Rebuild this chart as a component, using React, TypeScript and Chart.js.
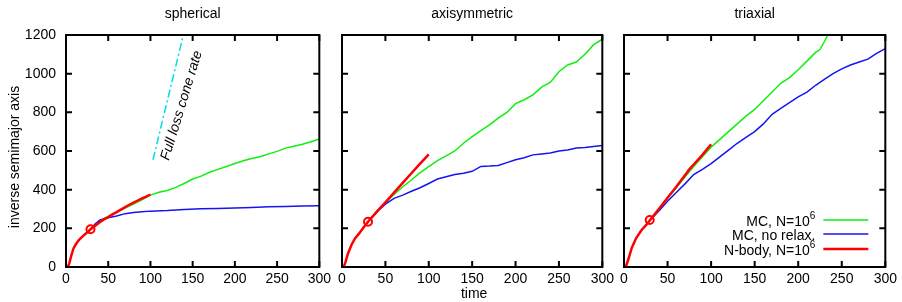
import React, { useEffect, useRef } from "react";
import { Chart, registerables } from "chart.js";

Chart.register(...registerables);

type Pt = [number, number];

// ---------- data ----------
const xTicks = [0, 50, 100, 150, 200, 250, 300];
const yTicks = [0, 200, 400, 600, 800, 1000, 1200];
const panelTitles = ["spherical", "axisymmetric", "triaxial"];
const yAxisTitle = "inverse semimajor axis";
const xAxisTitle = "time";
const annotationText = "Full loss cone rate";
const legendLabels: [string, string][] = [
  ["MC, N=10", "6"],
  ["MC, no relax.", ""],
  ["N-body, N=10", "6"],
];

// spherical
const sphNbody: Pt[] = [
  [2, 0], [4, 20], [6, 55], [9, 97], [12, 120], [16, 143], [20, 160], [25, 178], [29, 195],
  [35, 215], [40, 232], [45, 246], [50, 258], [55, 272], [60, 284], [65, 297], [70, 310],
  [75, 322], [80, 333], [85, 344], [90, 355], [95, 364], [100, 375],
];
const sphMC: Pt[] = [
  [29, 195], [35, 222], [40, 240], [50, 262], [60, 285], [70, 305], [80, 325], [90, 347],
  [100, 372], [110, 387], [120, 396], [130, 412], [140, 432], [150, 455], [160, 470],
  [170, 490], [180, 505], [190, 520], [200, 535], [210, 550], [220, 561], [230, 570],
  [240, 585], [250, 598], [260, 615], [270, 625], [280, 635], [290, 648], [300, 662],
];
const sphNoRelax: Pt[] = [
  [29, 195], [35, 225], [40, 242], [45, 250], [50, 255], [60, 264], [70, 276], [80, 282],
  [90, 286], [100, 289], [120, 292], [140, 297], [160, 301], [180, 303], [200, 305],
  [220, 308], [240, 311], [260, 313], [280, 315], [300, 317],
];
const sphCircle: Pt[] = [[29, 195]];
const sphFullLossCone: Pt[] = [[103, 555], [139, 1200]];

// axisymmetric
const axiNbody: Pt[] = [
  [2, 0], [4, 25], [7, 71], [11, 115], [15, 148], [20, 175], [25, 205], [30, 234],
  [40, 285], [50, 335], [60, 385], [70, 435], [80, 485], [90, 535], [100, 583],
];
const axiMC: Pt[] = [
  [30, 234], [40, 288], [50, 332], [60, 375], [70, 415], [80, 450], [90, 488], [100, 519],
  [110, 550], [120, 575], [130, 600], [140, 640], [150, 674], [160, 705], [170, 735],
  [180, 770], [190, 800], [200, 845], [210, 865], [220, 890], [230, 930], [240, 955],
  [250, 1010], [260, 1045], [270, 1060], [280, 1100], [290, 1150], [300, 1178],
];
const axiNoRelax: Pt[] = [
  [30, 234], [40, 285], [50, 325], [60, 355], [70, 372], [80, 392], [90, 410], [100, 432],
  [110, 455], [120, 467], [130, 478], [140, 485], [150, 495], [160, 520], [170, 522],
  [180, 525], [190, 540], [200, 555], [210, 565], [220, 580], [230, 585], [240, 590],
  [250, 600], [260, 605], [270, 615], [280, 618], [290, 623], [300, 628],
];
const axiCircle: Pt[] = [[30, 234]];

// triaxial
const triNbody: Pt[] = [
  [2, 0], [5, 40], [9, 100], [14, 150], [20, 190], [25, 215], [30, 243], [40, 300],
  [50, 358], [60, 415], [70, 475], [75, 505], [80, 530], [90, 580], [100, 635],
];
const triMC: Pt[] = [
  [30, 243], [40, 300], [50, 355], [60, 410], [70, 465], [80, 520], [90, 570], [100, 620],
  [110, 660], [120, 700], [130, 740], [140, 780], [150, 815], [160, 860], [170, 905],
  [180, 950], [190, 980], [200, 1020], [210, 1065], [220, 1110], [225, 1125], [230, 1165],
  [235, 1210],
];
const triNoRelax: Pt[] = [
  [30, 243], [40, 290], [50, 340], [60, 385], [70, 430], [80, 478], [90, 505], [100, 535],
  [110, 570], [120, 605], [130, 640], [140, 670], [150, 700], [160, 740], [170, 790],
  [180, 820], [190, 850], [200, 880], [210, 905], [220, 940], [230, 970], [240, 1000],
  [250, 1025], [260, 1045], [270, 1060], [280, 1075], [290, 1105], [300, 1130],
];
const triCircle: Pt[] = [[29.5, 243]];

// ---------- styles ----------
const FONT = '"Liberation Sans", Arial, sans-serif';
const FS = 14;
const RED = "#ff0000";
const GREEN = "#11ee11";
const BLUE = "#1515ee";
const CYAN = "#00dddd";

interface PanelDef {
  title: string;
  left: number;
  width: number;
  padL: number;
  padR: number;
  showY: boolean;
  nbody: Pt[];
  mc: Pt[];
  noRelax: Pt[];
  circle: Pt[];
  lossCone?: Pt[];
  annotation?: boolean;
  yTitle?: boolean;
  xTitle?: boolean;
  legend?: boolean;
}

const panels: PanelDef[] = [
  { title: panelTitles[0], left: 0, width: 335, padL: 0, padR: 14, showY: true,
    nbody: sphNbody, mc: sphMC, noRelax: sphNoRelax, circle: sphCircle,
    lossCone: sphFullLossCone, annotation: true, yTitle: true },
  { title: panelTitles[1], left: 330, width: 288, padL: 12, padR: 14, showY: false,
    nbody: axiNbody, mc: axiMC, noRelax: axiNoRelax, circle: axiCircle, xTitle: true },
  { title: panelTitles[2], left: 612, width: 289, padL: 12, padR: 14, showY: false,
    nbody: triNbody, mc: triMC, noRelax: triNoRelax, circle: triCircle, legend: true },
];

const toXY = (a: Pt[]) => a.map(([x, y]) => ({ x, y }));

function makeChart(canvas: HTMLCanvasElement, p: PanelDef) {
  const datasets: any[] = [
    {
      data: toXY(p.circle), showLine: false, pointRadius: 4, pointBorderWidth: 2,
      pointBorderColor: RED, pointBackgroundColor: "rgba(0,0,0,0)",
    },
    { data: toXY(p.nbody), showLine: true, borderColor: RED, borderWidth: 2.5, pointRadius: 0 },
    { data: toXY(p.noRelax), showLine: true, borderColor: BLUE, borderWidth: 1.5, pointRadius: 0 },
    { data: toXY(p.mc), showLine: true, borderColor: GREEN, borderWidth: 1.5, pointRadius: 0 },
  ];
  if (p.lossCone) {
    datasets.push({
      data: toXY(p.lossCone), showLine: true, borderColor: CYAN, borderWidth: 1.5,
      pointRadius: 0, borderDash: [8, 3, 2, 3],
    });
  }

  const decor = {
    id: "decor",
    afterDraw(chart: any) {
      const ctx: CanvasRenderingContext2D = chart.ctx;
      const { left, top, right, bottom } = chart.chartArea;
      const xs = chart.scales.x;
      const ys = chart.scales.y;
      ctx.save();
      ctx.strokeStyle = "#000";
      ctx.lineWidth = 2;
      ctx.strokeRect(left, top, right - left, bottom - top);
      const TL = 6;
      ctx.beginPath();
      for (const v of xTicks) {
        const px = xs.getPixelForValue(v);
        ctx.moveTo(px, bottom); ctx.lineTo(px, bottom - TL);
        ctx.moveTo(px, top); ctx.lineTo(px, top + TL);
      }
      for (const v of yTicks) {
        const py = ys.getPixelForValue(v);
        ctx.moveTo(left, py); ctx.lineTo(left + TL, py);
        ctx.moveTo(right, py); ctx.lineTo(right - TL, py);
      }
      ctx.stroke();

      ctx.fillStyle = "#000";
      ctx.font = `${FS}px ${FONT}`;
      ctx.textAlign = "center";
      ctx.textBaseline = "middle";
      ctx.fillText(p.title, (left + right) / 2, 14);

      if (p.yTitle) {
        ctx.save();
        ctx.translate(15, 157);
        ctx.rotate(-Math.PI / 2);
        ctx.font = `${FS}px ${FONT}`;
        ctx.fillText(yAxisTitle, 0, 0);
        ctx.restore();
      }
      if (p.xTitle) {
        ctx.font = `${FS}px ${FONT}`;
        ctx.fillText(xAxisTitle, (left + right) / 2 + 2, 294);
      }
      if (p.annotation) {
        ctx.save();
        ctx.translate(xs.getPixelForValue(137), ys.getPixelForValue(835));
        ctx.rotate((-73 * Math.PI) / 180);
        ctx.font = `italic ${FS}px ${FONT}`;
        ctx.fillText(annotationText, 0, 0);
        ctx.restore();
      }
      if (p.legend) {
        const colors = [GREEN, BLUE, RED];
        const rowsY = [220, 234, 249];
        const textRight = right - 70;
        legendLabels.forEach(([main, sup], i) => {
          const y = rowsY[i];
          ctx.strokeStyle = colors[i];
          ctx.lineWidth = i === 2 ? 2.5 : 1.5;
          ctx.beginPath();
          ctx.moveTo(right - 62, y);
          ctx.lineTo(right - 17, y);
          ctx.stroke();
          ctx.font = `${FS}px ${FONT}`;
          const mw = ctx.measureText(main).width;
          ctx.font = `10px ${FONT}`;
          const sw = sup ? ctx.measureText(sup).width : 0;
          const start = textRight - mw - sw;
          ctx.textAlign = "left";
          ctx.font = `${FS}px ${FONT}`;
          ctx.fillStyle = "#000";
          ctx.fillText(main, start, y + 2);
          if (sup) {
            ctx.font = `10px ${FONT}`;
            ctx.fillText(sup, start + mw, y - 4);
          }
        });
      }
      ctx.restore();
    },
  };

  return new Chart(canvas, {
    type: "scatter",
    data: { datasets },
    options: {
      animation: false,
      responsive: false,
      devicePixelRatio: 1,
      events: [],
      layout: { padding: { top: 35, left: p.padL, right: p.padR, bottom: 0 } },
      elements: { line: { tension: 0 } },
      plugins: { legend: { display: false }, tooltip: { enabled: false }, title: { display: false } },
      scales: {
        x: {
          type: "linear", min: 0, max: 300,
          grid: { display: false, drawTicks: false },
          border: { display: false },
          ticks: {
            stepSize: 50, color: "#000", font: { family: FONT, size: FS }, padding: 4, maxRotation: 0,
            callback: (v: any) => String(v),
          },
          afterFit: (s: any) => { s.height = 35; },
        },
        y: {
          type: "linear", min: 0, max: 1200,
          display: p.showY,
          grid: { display: false, drawTicks: false },
          border: { display: false },
          ticks: {
            stepSize: 200, color: "#000", font: { family: FONT, size: FS }, padding: 10,
            callback: (v: any) => String(v),
          },
          afterFit: (s: any) => { s.width = p.showY ? 66 : 0; },
        },
      },
    } as any,
    plugins: [decor],
  });
}

function Panel({ p }: { p: PanelDef }) {
  const ref = useRef<HTMLCanvasElement>(null);
  useEffect(() => {
    if (!ref.current) return;
    const c = makeChart(ref.current, p);
    return () => c.destroy();
  }, [p]);
  return (
    <canvas
      ref={ref}
      width={p.width}
      height={302}
      style={{ position: "absolute", left: p.left, top: 0, width: p.width, height: 302 }}
    />
  );
}

export default function App() {
  return (
    <div style={{ position: "fixed", left: 0, top: 0, width: 902, height: 302, background: "#fff" }}>
      {panels.map((p, i) => (
        <Panel key={i} p={p} />
      ))}
    </div>
  );
}
